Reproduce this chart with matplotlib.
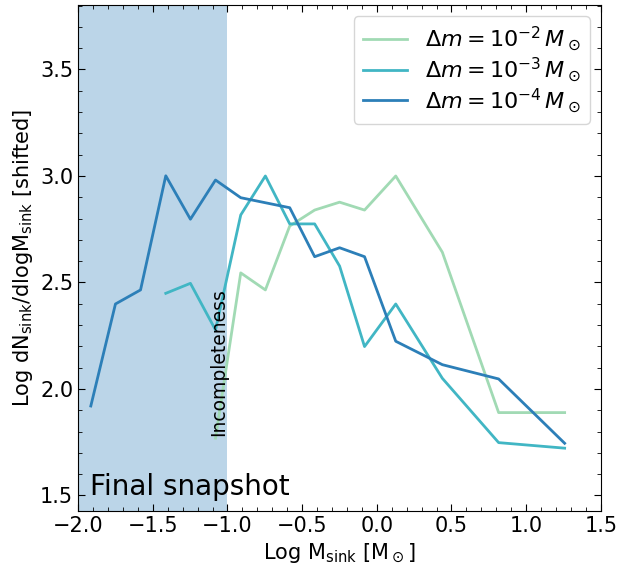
import matplotlib.pyplot as plt
from matplotlib.ticker import AutoMinorLocator

# log sink mass bins and shifted mass function, one per accretion threshold
x_dm2 = [-1.080, -0.911, -0.746, -0.583, -0.416, -0.249, -0.082, 0.127, 0.439, 0.816, 1.258]
y_dm2 = [1.769, 2.545, 2.465, 2.765, 2.840, 2.877, 2.840, 3.000, 2.642, 1.889, 1.889]

x_dm3 = [-1.413, -1.248, -1.080, -0.911, -0.746, -0.583, -0.416, -0.249, -0.082, 0.127, 0.439, 0.816, 1.258]
y_dm3 = [2.449, 2.496, 2.277, 2.817, 3.000, 2.775, 2.775, 2.577, 2.199, 2.399, 2.050, 1.748, 1.722]

x_dm4 = [-1.915, -1.750, -1.582, -1.413, -1.248, -1.080, -0.911, -0.583, -0.416, -0.249, -0.082, 0.127, 0.439, 0.816, 1.258]
y_dm4 = [1.920, 2.399, 2.465, 3.001, 2.797, 2.981, 2.898, 2.851, 2.621, 2.663, 2.621, 2.224, 2.114, 2.047, 1.745]

labels = [r'$\Delta m = 10^{-2}\,M_\odot$', r'$\Delta m = 10^{-3}\,M_\odot$', r'$\Delta m = 10^{-4}\,M_\odot$']
colors = ['#a1dab4', '#41b6c4', '#2c7fb8']

fig = plt.figure(figsize=(6.2, 5.77), dpi=100)
ax = fig.add_axes([0.126, 0.1144, 0.843, 0.877])

ax.axvspan(-2.0, -1.0, color='#1f77b4', alpha=0.3, lw=0)

ax.plot(x_dm2, y_dm2, color=colors[0], lw=2, label=labels[0])
ax.plot(x_dm3, y_dm3, color=colors[1], lw=2, label=labels[1])
ax.plot(x_dm4, y_dm4, color=colors[2], lw=2, label=labels[2])

ax.text(-0.995, 2.127, 'Incompleteness', rotation=90, ha='right', va='center', fontsize=13.5)
ax.text(0.023, 0.02, 'Final snapshot', transform=ax.transAxes, fontsize=20, ha='left', va='bottom')

ax.set_xlim(-2.0, 1.5)
ax.set_ylim(1.427, 3.803)
ax.set_xticks([-2.0, -1.5, -1.0, -0.5, 0.0, 0.5, 1.0, 1.5])
ax.set_yticks([1.5, 2.0, 2.5, 3.0, 3.5])
ax.xaxis.set_minor_locator(AutoMinorLocator(5))
ax.yaxis.set_minor_locator(AutoMinorLocator(5))
ax.tick_params(which='both', direction='in', top=True, right=True, labelsize=15)
ax.tick_params(which='major', length=5)
ax.tick_params(which='minor', length=3)

ax.set_xlabel(r'Log M$_{\rm sink}$ [M$_\odot$]', fontsize=15)
ax.set_ylabel(r'Log dN$_{\rm sink}$/dlogM$_{\rm sink}$ [shifted]', fontsize=15)
ax.legend(loc='upper right', fontsize=16, labelspacing=0.1, handlelength=2.0)

fig.savefig('out.png', dpi=100)
